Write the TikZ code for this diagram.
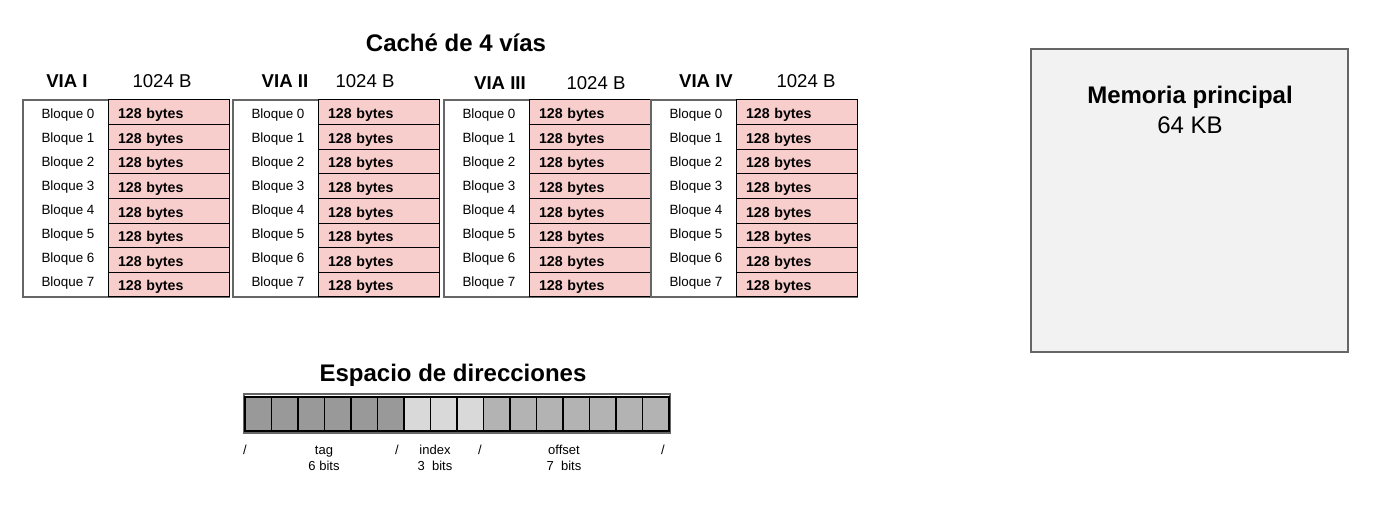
\documentclass[tikz,border=0pt]{standalone}
\usepackage{fontspec}
\setmainfont{Liberation Sans}
\usepackage{xcolor}
\usepackage{tikz}
\definecolor{cellpink}{RGB}{248, 206, 204}
\definecolor{memgray}{RGB}{242, 242, 242}
\definecolor{bordergray}{RGB}{102, 102, 102}
\definecolor{tagbit}{RGB}{153, 153, 153}
\definecolor{idxbit}{RGB}{217, 217, 217}
\definecolor{offbit}{RGB}{179, 179, 179}

\begin{document}
\begin{tikzpicture}[x = 0.5pt, y = -0.5pt,
			waybox/.style = {draw = bordergray, line width = 0.6pt, minimum width = 103pt, minimum height = 98.5pt, inner sep = 0pt},
			cell/.style = {draw = black, fill = cellpink, line width = 0.5pt, minimum height = 12.3pt, text width = 50.5pt, text height = 6.2pt, text depth = 0pt, inner xsep = 5pt, inner ysep = 0pt, align = left, font = \fontsize{7.1}{8}\selectfont\bfseries},
			blq/.style = {font = \fontsize{6.7}{7}\selectfont},
			head/.style = {font = \fontsize{9.3}{10}\selectfont},
			big/.style = {font = \fontsize{12}{14.7}\selectfont\bfseries},
			bit/.style = {draw = black, line width = 0.6pt, minimum width = 13.25pt, minimum height = 17pt, inner sep = 0pt},
			small/.style = {font = \fontsize{6.5}{8}\selectfont, align = center}]
			\useasboundingbox (0,0) rectangle (1392,508);
			\node (cachetitle) at (456,43) [big] {Caché de 4 vías};
			\foreach \w/\x/\vx/\bx/\ny/\name in {1/23/67/162/81/VIA I, 2/233/285/365/81/VIA II, 3/444/500/596/83/VIA III, 4/651/706/806/81/VIA IV} {
				\node (via\w) at ({\x+103},198.5) [waybox] {};
				\node (vianame\w) at (\vx,\ny) [head, font = \fontsize{9.3}{10}\selectfont\bfseries] {\name};
				\node (viasize\w) at (\bx,\ny) [head] {1024 B};
				\foreach \r in {0,...,7} {
					\node (cell\w\r) at ({\x+145.5},{112.3+24.625*\r}) [cell] {128 bytes};
					\node (blq\w\r) at ({\x+45},{115.5+24*\r}) [blq] {Bloque \r};
				}
			}
			\node (mem) at (1189.5,200.5) [draw = bordergray, fill = memgray, line width = 0.6pt, minimum width = 158.5pt, minimum height = 151.5pt] {};
			\node (memtext) at (1190,110) [big, align = center] {Memoria principal\\\mdseries 64 KB};
			\node (addrtitle) at (453,375) [big] {Espacio de direcciones};
			\node (bar) at (457,413.5) [draw = bordergray, line width = 1pt, minimum width = 213pt, minimum height = 19.5pt] {};
			\foreach \a/\b/\c in {0/5/tagbit, 6/8/idxbit, 9/15/offbit}
				\foreach \k in {\a,...,\b}
					\node (bit\k) at ({245+26.5*(\k+0.5)},414) [bit, fill = \c] {};
			\node (sl0) at (245,450) [small] {/};
			\node (sl1) at (397,450) [small] {/};
			\node (sl2) at (480,450) [small] {/};
			\node (sl3) at (663,450) [small] {/};
			\node (tagl) at (324,458) [small] {tag\\6 bits};
			\node (indexl) at (435,458) [small] {index\\3\ \ bits};
			\node (offsetl) at (564,458) [small] {offset\\7\ \ bits};
			\end{tikzpicture}
\end{document}
